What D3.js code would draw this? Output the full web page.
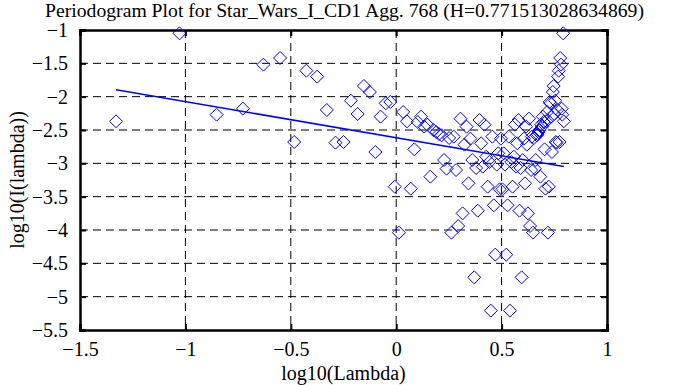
<!DOCTYPE html>
<html lang="en">
<head>
<meta charset="utf-8">
<title>Periodogram Plot</title>
<script src="https://cdn.jsdelivr.net/npm/d3@7"></script>
<style>
  body { margin: 0; background: #fff; }
  svg { display: block; }
  text { font-family: "Liberation Serif", "Times New Roman", "DejaVu Serif", serif; fill: #000; }
</style>
</head>
<body>
<svg width="687" height="385"></svg>
<script>

// log10(Lambda) for each frequency
const lambdaLog = [
  -1.329, -1.028, -0.852, -0.727, -0.630, -0.551, -0.484, -0.426, -0.375, -0.329,
  -0.288, -0.250, -0.215, -0.183, -0.153, -0.125, -0.099, -0.074, -0.050, -0.028,
  -0.007, 0.013, 0.033, 0.051, 0.069, 0.086, 0.102, 0.118, 0.133, 0.148,
  0.162, 0.176, 0.190, 0.203, 0.215, 0.227, 0.239, 0.251, 0.262, 0.273,
  0.284, 0.294, 0.305, 0.315, 0.324, 0.334, 0.343, 0.352, 0.361, 0.370,
  0.379, 0.387, 0.395, 0.403, 0.411, 0.419, 0.427, 0.434, 0.442, 0.449,
  0.456, 0.463, 0.470, 0.477, 0.484, 0.491, 0.497, 0.504, 0.510, 0.516,
  0.522, 0.528, 0.534, 0.540, 0.546, 0.552, 0.558, 0.563, 0.569, 0.574,
  0.580, 0.585, 0.590, 0.595, 0.600, 0.606, 0.611, 0.616, 0.620, 0.625,
  0.630, 0.635, 0.640, 0.644, 0.649, 0.653, 0.658, 0.662, 0.667, 0.671,
  0.675, 0.680, 0.684, 0.688, 0.692, 0.696, 0.700, 0.704, 0.708, 0.712,
  0.716, 0.720, 0.724, 0.728, 0.732, 0.736, 0.739, 0.743, 0.747, 0.750,
  0.754, 0.757, 0.761, 0.764, 0.768, 0.771, 0.775, 0.778, 0.782, 0.785,
  0.788, 0.792, 0.795
];

// log10(I(lambda))
const periodLog = [
  -2.37, -1.05, -2.27, -2.18, -1.52, -1.42, -2.68, -1.61, -1.70, -2.20,
  -2.69, -2.68, -2.06, -2.26, -1.84, -1.93, -2.83, -2.30, -2.10, -2.08,
  -3.35, -4.04, -2.23, -2.37, -3.38, -2.79, -2.38, -2.30, -2.45, -2.42,
  -3.20, -2.50, -2.53, -2.56, -2.58, -2.95, -3.08, -2.62, -4.04, -2.60,
  -3.10, -3.94, -2.33, -3.75, -2.72, -2.45, -3.30, -2.63, -2.95, -4.71,
  -3.07, -3.71, -2.35, -2.70, -3.05, -2.42, -2.90, -3.35, -2.98, -5.21,
  -2.60, -3.63, -4.37, -3.02, -2.85, -3.39, -2.63, -3.39, -2.85, -3.02,
  -4.37, -3.63, -2.60, -5.21, -2.98, -3.35, -2.90, -2.42, -3.05, -2.70,
  -2.35, -3.71, -3.07, -4.71, -2.95, -2.63, -3.30, -2.45, -2.72, -3.75,
  -2.33, -3.94, -3.10, -2.60, -4.04, -2.62, -3.08, -2.95, -2.58, -2.56,
  -2.53, -2.50, -3.20, -2.42, -2.45, -2.30, -2.38, -2.79, -3.38, -2.37,
  -2.23, -4.04, -3.35, -2.08, -2.10, -2.30, -2.83, -1.93, -1.84, -2.26,
  -2.06, -2.68, -2.69, -2.20, -1.70, -1.61, -2.68, -1.42, -1.52, -2.18,
  -2.27, -1.05, -2.37
];

// least squares fit, slope = 1 - 2H
const fitIntercept = -2.617;
const fitSlope = -0.543;

const xTicks = [-1.5, -1, -0.5, 0, 0.5, 1];
const yTicks = [-1, -1.5, -2, -2.5, -3, -3.5, -4, -4.5, -5, -5.5];

const titleText = "Periodogram Plot for Star_Wars_I_CD1 Agg. 768 (H=0.771513028634869)";

const margin = {top: 30, right: 80, bottom: 55, left: 80};
const width = 687, height = 385;

const svg = d3.select('svg');

const x = d3.scaleLinear().domain([-1.5, 1]).range([margin.left, width - margin.right]);
const y = d3.scaleLinear().domain([-5.5, -1]).range([height - margin.bottom, margin.top]);

const fmt = function(d) { return String(d).replace('-', '\u2212'); };

// dashed grid
svg.append('g')
  .selectAll('line')
  .data(xTicks.slice(1, -1))
  .enter().append('line')
  .attr('x1', function(d) { return x(d); })
  .attr('x2', function(d) { return x(d); })
  .attr('y1', y(-1)).attr('y2', y(-5.5))
  .attr('stroke', '#000').attr('stroke-dasharray', '8,5');

svg.append('g')
  .selectAll('line')
  .data(yTicks.slice(1, -1))
  .enter().append('line')
  .attr('y1', function(d) { return y(d); })
  .attr('y2', function(d) { return y(d); })
  .attr('x1', x(-1.5)).attr('x2', x(1))
  .attr('stroke', '#000').attr('stroke-dasharray', '8,5');

// axes with inward ticks on all sides
svg.append('g').attr('transform', 'translate(0,' + y(-5.5) + ')')
  .call(d3.axisBottom(x).tickValues(xTicks).tickSize(-6).tickPadding(12).tickFormat(fmt));
svg.append('g').attr('transform', 'translate(0,' + y(-1) + ')')
  .call(d3.axisTop(x).tickValues(xTicks).tickSize(-6).tickFormat(''));
svg.append('g').attr('transform', 'translate(' + x(-1.5) + ',0)')
  .call(d3.axisLeft(y).tickValues(yTicks).tickSize(-6).tickPadding(12).tickFormat(fmt));
svg.append('g').attr('transform', 'translate(' + x(1) + ',0)')
  .call(d3.axisRight(y).tickValues(yTicks).tickSize(-6).tickFormat(''));

svg.selectAll('.domain').attr('stroke-width', 2.5);
svg.selectAll('.tick line').attr('stroke-width', 2);
svg.selectAll('.tick text').attr('font-size', 20).attr('font-family', '"Liberation Serif", serif');

// data diamonds
const r = 6.5;
svg.append('g')
  .selectAll('path')
  .data(lambdaLog)
  .enter().append('path')
  .attr('d', 'M0,' + (-r) + 'L' + r + ',0L0,' + r + 'L' + (-r) + ',0Z')
  .attr('transform', function(d, i) { return 'translate(' + x(d) + ',' + y(periodLog[i]) + ')'; })
  .attr('fill', 'none')
  .attr('stroke', '#0000ff')
  .attr('stroke-width', 1);

// fitted line
const xEnds = d3.extent(lambdaLog);
svg.append('line')
  .attr('x1', x(xEnds[0])).attr('y1', y(fitIntercept + fitSlope * xEnds[0]))
  .attr('x2', x(xEnds[1])).attr('y2', y(fitIntercept + fitSlope * xEnds[1]))
  .attr('stroke', '#0000ff').attr('stroke-width', 1.5);

// labels
svg.append('text')
  .attr('x', width / 2 + 1).attr('y', 17)
  .attr('text-anchor', 'middle').attr('font-size', 19.7)
  .text(titleText);

svg.append('text')
  .attr('x', x(-0.25)).attr('y', 380)
  .attr('text-anchor', 'middle').attr('font-size', 20)
  .text('log10(Lambda)');

svg.append('text')
  .attr('transform', 'translate(24,' + y(-3.25) + ') rotate(-90)')
  .attr('text-anchor', 'middle').attr('font-size', 20)
  .text('log10(I(lambda))');

</script>
</body>
</html>
